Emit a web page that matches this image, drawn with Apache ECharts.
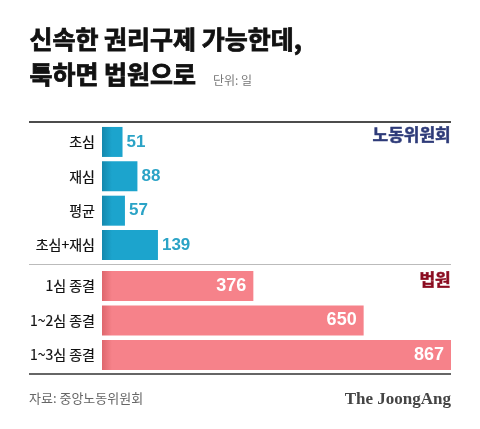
<!DOCTYPE html>
<html><head><meta charset="utf-8">
<script src="https://cdn.jsdelivr.net/npm/echarts@6/dist/echarts.min.js"></script>
<style>html,body{margin:0;padding:0;background:#fff}#c{width:480px;height:429px}</style>
</head><body><div id="c"></div>
<script>
var laborCats = ['초심', '재심', '평균', '초심+재심'];
var laborVals = [51, 88, 57, 139];
var courtCats = ['1심 종결', '1~2심 종결', '1~3심 종결'];
var courtVals = [376, 650, 867];
var xMax = 867;

var KR = '"Noto Sans CJK KR", "Noto Sans", sans-serif';
var chart = echarts.init(document.getElementById('c'));
function grad(dark, base) {
  return {type:'linear', x:102, y:0, x2:112, y2:0, global:true,
    colorStops:[{offset:0,color:dark},{offset:1,color:base}]};
}
var catAxis = function(cats, idx){
  return {type:'category', gridIndex:idx, data:cats, inverse:true,
    axisLine:{show:false}, axisTick:{show:false}, splitLine:{show:false},
    axisLabel:{fontFamily:KR, fontSize:14, color:'#111', margin:7,
      textBorderColor:'#111', textBorderWidth:0.2}};
};
var valAxis = function(idx){
  return {type:'value', gridIndex:idx, min:0, max:xMax, show:false, splitLine:{show:false}};
};
chart.setOption({
  animation:false,
  grid:[
    {left:102, right:29, top:124.75, height:137.5},
    {left:102, right:29, top:268.75, height:103.5}
  ],
  xAxis:[valAxis(0), valAxis(1)],
  yAxis:[catAxis(laborCats,0), catAxis(courtCats,1)],
  series:[
    {type:'bar', xAxisIndex:0, yAxisIndex:0, data:laborVals, barWidth:30,
     itemStyle:{color:grad('#1488ad','#1ca4cd')},
     label:{show:true, position:'right', distance:4, fontFamily:'"Liberation Sans", Arial, sans-serif',
       fontWeight:'bold', fontSize:17, color:'#2ba3c6'}},
    {type:'bar', xAxisIndex:1, yAxisIndex:1, data:courtVals, barWidth:30,
     itemStyle:{color:grad('#de676d','#f6828a')},
     label:{show:true, position:'insideRight', distance:7, fontFamily:'"Liberation Sans", Arial, sans-serif',
       fontWeight:'bold', fontSize:18, color:'#ffffff'}}
  ],
  graphic:[
    {type:'text', left:29, top:27, style:{text:'신속한 권리구제 가능한데,', font:'bold 25px '+KR, fill:'#111', stroke:'#111', lineWidth:0.8}},
    {type:'text', left:29, top:62, style:{text:'툭하면 법원으로', font:'bold 25px '+KR, fill:'#111', stroke:'#111', lineWidth:0.8}},
    {type:'text', left:213, top:74, style:{text:'단위: 일', font:'12px '+KR, fill:'#777'}},
    {type:'line', shape:{x1:29,y1:122,x2:451,y2:122}, style:{stroke:'#111', lineWidth:1.5}},
    {type:'line', shape:{x1:29,y1:264.5,x2:451,y2:264.5}, style:{stroke:'#bbb', lineWidth:1}},
    {type:'line', shape:{x1:29,y1:374,x2:451,y2:374}, style:{stroke:'#333', lineWidth:1.5}},
    {type:'text', right:29, top:126, style:{text:'노동위원회', font:'bold 17px '+KR, fill:'#2d3a78', stroke:'#2d3a78', lineWidth:0.5}},
    {type:'text', right:29, top:271, style:{text:'법원', font:'bold 17px '+KR, fill:'#8a0b1f', stroke:'#8a0b1f', lineWidth:0.5}},
    {type:'text', left:29, top:392, style:{text:'자료: 중앙노동위원회', font:'13px '+KR, fill:'#666'}},
    {type:'text', right:29, top:391, style:{text:'The JoongAng', font:'bold 17px "Liberation Serif", serif', fill:'#444'}}
  ]
});
</script></body></html>
